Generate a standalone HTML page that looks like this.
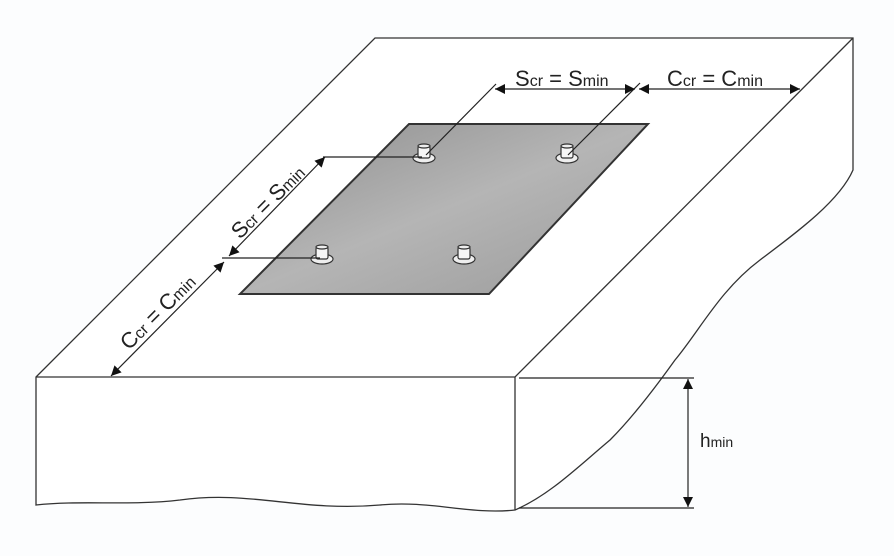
<!DOCTYPE html>
<html><head><meta charset="utf-8"><style>
html,body{margin:0;padding:0;background:#fff;}
svg{display:block;}
text{font-family:"Liberation Sans",sans-serif;fill:#222;}
</style></head><body>
<svg width="894" height="556" viewBox="0 0 894 556" xmlns="http://www.w3.org/2000/svg">
<defs>
<marker id="a" viewBox="0 0 10 10" refX="10" refY="5" markerWidth="13" markerHeight="10" orient="auto-start-reverse" markerUnits="userSpaceOnUse"><path d="M0,0 L10,5 L0,10 z" fill="#111"/></marker>
<linearGradient id="g" x1="0" y1="0" x2="1" y2="1"><stop offset="0" stop-color="#8d8d8d"/><stop offset="0.5" stop-color="#b5b5b5"/><stop offset="1" stop-color="#9a9a9a"/></linearGradient>
</defs>
<rect width="894" height="556" fill="#fcfdfe"/>
<g fill="none" stroke="#333" stroke-width="1.3">
<path d="M36,377 L375,38 L853,38 L853,170 C840,200 800,230 760,260 C720,290 700,330 675,360 C650,395 630,420 610,440 C580,465 550,495 515,510 C470,515 430,500 380,505 C300,512 250,490 180,500 C130,506 80,500 36,505 Z" fill="#fff"/>
<path d="M36,377 L515,377 L853,38"/>
<path d="M515,377 L515,510"/>
</g>
<polygon points="409,124 648,124 489,294 240,294" fill="url(#g)" stroke="#333" stroke-width="2"/>
<g stroke="#333" stroke-width="1.2" fill="#eee">
<g transform="translate(424,156)"><ellipse cx="0" cy="2" rx="11" ry="5"/><rect x="-6" y="-10" width="12" height="12" rx="2" fill="#f6f6f6"/><ellipse cx="0" cy="-10" rx="6" ry="2"/></g>
<g transform="translate(567,156)"><ellipse cx="0" cy="2" rx="11" ry="5"/><rect x="-6" y="-10" width="12" height="12" rx="2" fill="#f6f6f6"/><ellipse cx="0" cy="-10" rx="6" ry="2"/></g>
<g transform="translate(322,257)"><ellipse cx="0" cy="2" rx="11" ry="5"/><rect x="-6" y="-10" width="12" height="12" rx="2" fill="#f6f6f6"/><ellipse cx="0" cy="-10" rx="6" ry="2"/></g>
<g transform="translate(464,257)"><ellipse cx="0" cy="2" rx="11" ry="5"/><rect x="-6" y="-10" width="12" height="12" rx="2" fill="#f6f6f6"/><ellipse cx="0" cy="-10" rx="6" ry="2"/></g>
</g>
<g stroke="#222" stroke-width="1.2" fill="none">
<path d="M426,155 L496,84"/>
<path d="M568,155 L640,83"/>
<path d="M495,89 L635,89" marker-start="url(#a)" marker-end="url(#a)"/>
<path d="M639,89 L800,89" marker-start="url(#a)" marker-end="url(#a)"/>
<path d="M323,157 L422,157"/>
<path d="M222,258 L320,258"/>
<path d="M325,157 L229,256" marker-start="url(#a)" marker-end="url(#a)"/>
<path d="M224,262 L111,376" marker-start="url(#a)" marker-end="url(#a)"/>
<path d="M519,378 L694,378"/>
<path d="M519,508 L694,508"/>
<path d="M688,379 L688,507" marker-start="url(#a)" marker-end="url(#a)"/>
</g>
<text x="515" y="86" font-size="22">S<tspan font-size="16">cr</tspan> = S<tspan font-size="16">min</tspan></text>
<text x="667" y="86" font-size="22">C<tspan font-size="16">cr</tspan> = C<tspan font-size="16">min</tspan></text>
<text x="0" y="0" font-size="22" transform="translate(240,240) rotate(-45)">S<tspan font-size="16">cr</tspan> = S<tspan font-size="16">min</tspan></text>
<text x="0" y="0" font-size="22" transform="translate(129,351) rotate(-45)">C<tspan font-size="16">cr</tspan> = C<tspan font-size="16">min</tspan></text>
<text x="700" y="447" font-size="19">h<tspan font-size="14">min</tspan></text>
</svg>
</body></html>
